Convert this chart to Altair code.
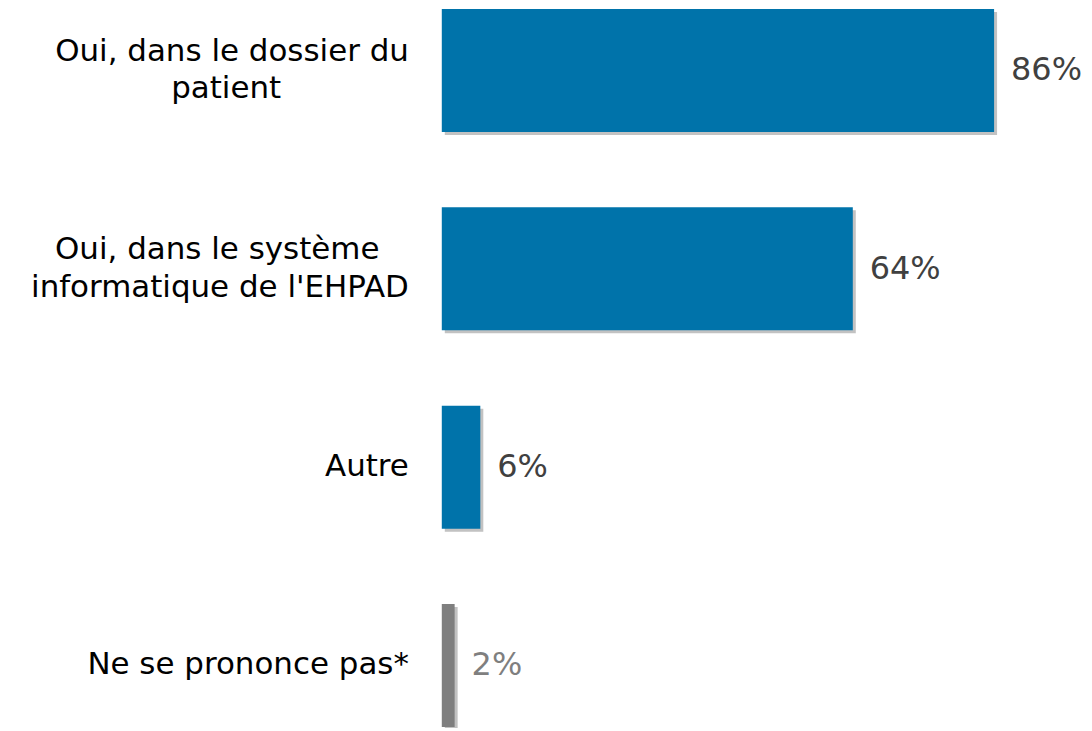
import altair as alt
import pandas as pd

# ---- data ----
categories = [
    "Oui, dans le dossier du\npatient",
    "Oui, dans le système\ninformatique de l'EHPAD",
    "Autre",
    "Ne se prononce pas*",
]
values = [0.86, 0.64, 0.06, 0.02]
value_labels = ["86%", "64%", "6%", "2%"]
bar_colors = ["#0073AA", "#0073AA", "#0073AA", "#7F7F7F"]
text_colors = ["#404040", "#404040", "#404040", "#7F7F7F"]

# visual centring of the lines of each label: non-breaking spaces appended to the
# shorter line, closed by a zero-width space so that they are not trimmed away
NB = "\u00a0"
ZW = "\u200b"
line_pad = [[0, 13], [3, 0], [0], [0]]


def centred(label, pads):
    lines = label.split("\n")
    return "\n".join(l + (NB * p + ZW if p else "") for l, p in zip(lines, pads))


df = pd.DataFrame({
    "cat": categories,
    "shown": [centred(c, p) for c, p in zip(categories, line_pad)],
    "nlines": [len(c.split("\n")) for c in categories],
    "val": values,
    "lab": value_labels,
    "bc": bar_colors,
    "tc": text_colors,
})

FONT = "DejaVu Sans"
LH = 38

y = alt.Y("cat:N", sort=categories, axis=None,
          scale=alt.Scale(domain=categories, paddingInner=0.38, paddingOuter=0))
x = alt.X("val:Q", axis=None, scale=alt.Scale(domain=[0, 1]))

base = alt.Chart(df)

shadows = [
    base.mark_bar(color="#000000", opacity=o, xOffset=3, x2Offset=e, yOffset=3, y2Offset=e).encode(x=x, y=y)
    for o, e in [(0.06, 7), (0.08, 5), (0.12, 3)]
]
bars = base.mark_bar().encode(x=x, y=y, color=alt.Color("bc:N", scale=None))

values_txt = base.mark_text(align="left", baseline="middle", dx=17, font=FONT, fontSize=32).encode(
    x=x, y=y, text="lab:N", color=alt.Color("tc:N", scale=None))

cat_layers = [
    base.transform_filter(alt.datum.nlines == n).mark_text(
        align="right", baseline="middle", font=FONT, fontSize=31,
        lineBreak="\n", lineHeight=LH, color="#000000", dy=-(n - 1) * LH / 2,
    ).encode(x=alt.value(-33), y=y, text="shown:N")
    for n in (1, 2)
]

chart = alt.layer(*shadows, bars, values_txt, *cat_layers).properties(
    width=644, height=720,
    autosize=alt.AutoSizeParams(type="none"),
    padding={"left": 435, "top": 0, "right": 0, "bottom": 0},
).configure_view(stroke=None)

chart.save("out.html", embed_options={"renderer": "svg", "actions": False})
